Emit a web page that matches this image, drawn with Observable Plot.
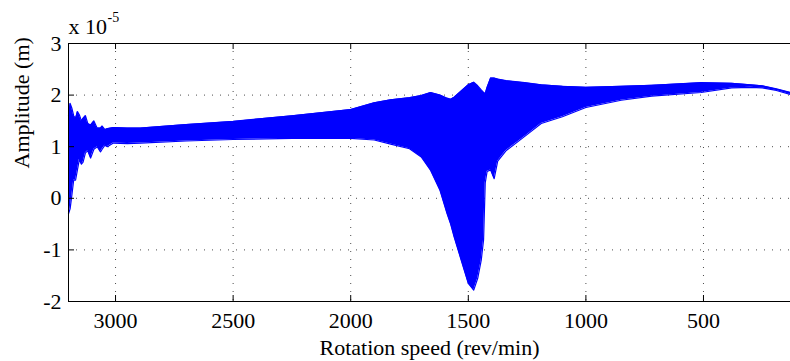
<!DOCTYPE html>
<html>
<head>
<meta charset="utf-8">
<script src="https://cdn.jsdelivr.net/npm/d3@7"></script>
<script src="https://cdn.jsdelivr.net/npm/@observablehq/plot@0.6"></script>
<style>
  html, body { margin: 0; padding: 0; background: #fff; }
  #chart { width: 790px; height: 361px; }
  #chart svg { overflow: visible; }
  #chart svg text { font-family: 'Liberation Serif', 'DejaVu Serif', serif !important; }
  #chart svg g[aria-label$="tick label"] text { font-size: 22px !important; fill: #000; }
</style>
</head>
<body>
<div id="chart"></div>
<script>
// Rotation speed (rev/min) at which the response envelope was read
const speed = [3200, 3193, 3186, 3178, 3170, 3162, 3154, 3145, 3138, 3128, 3118, 3106, 3092, 3078, 3064, 3057, 3045, 3035, 3009, 2950, 2894, 2700, 2500, 2250, 2000, 1900, 1830, 1750, 1700, 1660, 1620, 1590, 1575, 1560, 1530, 1500, 1477, 1460, 1445, 1435, 1428, 1420, 1405, 1390, 1375, 1340, 1260, 1190, 1100, 1000, 850, 720, 510, 380, 300, 250, 190, 130];
// Upper envelope of the amplitude (x 1e-5 m)
const upper = [1.60, 1.84, 1.75, 1.60, 1.55, 1.68, 1.62, 1.50, 1.55, 1.60, 1.45, 1.42, 1.50, 1.36, 1.36, 1.40, 1.33, 1.35, 1.37, 1.36, 1.36, 1.43, 1.49, 1.60, 1.72, 1.85, 1.91, 1.95, 1.99, 2.05, 2.00, 1.94, 1.92, 1.96, 2.08, 2.20, 2.25, 2.18, 2.10, 2.05, 2.03, 2.15, 2.33, 2.33, 2.31, 2.28, 2.24, 2.20, 2.17, 2.15, 2.17, 2.19, 2.24, 2.23, 2.20, 2.18, 2.12, 2.05];
// Lower envelope of the amplitude (x 1e-5 m)
const lower = [-0.30, -0.20, 0.05, 0.35, 0.35, 0.55, 0.75, 0.66, 0.70, 0.88, 0.92, 0.78, 0.95, 1.00, 0.90, 0.95, 1.03, 1.00, 1.07, 1.06, 1.07, 1.11, 1.14, 1.16, 1.16, 1.13, 1.05, 0.96, 0.80, 0.54, 0.15, -0.30, -0.50, -0.75, -1.20, -1.65, -1.78, -1.55, -1.20, -0.80, 0.30, 0.52, 0.55, 0.38, 0.72, 0.92, 1.20, 1.45, 1.58, 1.76, 1.90, 1.98, 2.05, 2.14, 2.15, 2.14, 2.09, 2.01];

const xTicks = [3000, 2500, 2000, 1500, 1000, 500];
const yTicks = [-2, -1, 0, 1, 2, 3];
const xDomain = [3200, 130];
const yDomain = [-2, 3];
const xLabel = "Rotation speed (rev/min)";
const yLabel = "Amplitude (m)";
const multiplier = "x 10";
const exponent = "-5";

const data = speed.map((s, i) => ({speed: s, upper: upper[i], lower: lower[i]}));

const W = 790, H = 361, mL = 68, mT = 43, mB = 60, mR = 0;
const plotW = W - mL - mR, plotH = H - mT - mB;
const font = "Liberation Serif";
const blue = "#0000ff";
const gridStyle = {stroke: "#000", strokeOpacity: 0.7, strokeDasharray: "1,7"};

const chart = Plot.plot({
  width: W, height: H,
  marginLeft: mL, marginTop: mT, marginBottom: mB, marginRight: mR,
  style: {fontFamily: font, fontSize: "22px", color: "#000", background: "#fff", overflow: "visible"},
  x: {domain: xDomain, ticks: xTicks, tickSize: 0, tickPadding: 11, tickFormat: d => String(d), label: null},
  y: {domain: yDomain, ticks: yTicks, tickSize: 0, tickPadding: 7, tickFormat: d => String(d), label: null},
  marks: [
    Plot.ruleX(xTicks, {x: d => d, ...gridStyle}),
    Plot.ruleY(yTicks.filter(d => d > yDomain[0] && d < yDomain[1]), {y: d => d, ...gridStyle}),
    Plot.areaY(data, {x: "speed", y1: "lower", y2: "upper", fill: blue}),
    Plot.lineY(data, {x: "speed", y: "upper", stroke: blue, strokeWidth: 1.2}),
    Plot.lineY(data, {x: "speed", y: "lower", stroke: blue, strokeWidth: 1.2}),
    // axes box (right edge falls outside the picture)
    Plot.ruleY([yDomain[1]], {y: d => d, stroke: "#000", strokeWidth: 1}),
    Plot.ruleY([yDomain[0]], {y: d => d, stroke: "#000", strokeWidth: 1}),
    Plot.ruleX([xDomain[0]], {x: d => d, stroke: "#000", strokeWidth: 1}),
    // inward ticks
    Plot.ruleX(xTicks, {x: d => d, insetTop: plotH - 6, stroke: "#000"}),
    Plot.ruleX(xTicks, {x: d => d, insetBottom: plotH - 6, stroke: "#000"}),
    Plot.ruleY(yTicks, {y: d => d, insetRight: plotW - 6, stroke: "#000"}),
    // axis titles
    Plot.text([xLabel], {frameAnchor: "bottom", lineAnchor: "middle", dy: 46, fontFamily: font, fontSize: 22, fill: "#000"}),
    Plot.text([yLabel], {frameAnchor: "left", rotate: -90, lineAnchor: "middle", dx: -47, dy: -4, fontFamily: font, fontSize: 22, fill: "#000"}),
    // exponent multiplier
    Plot.text([multiplier], {frameAnchor: "top-left", textAnchor: "start", lineAnchor: "middle", dy: -17, fontFamily: font, fontSize: 22, fill: "#000"}),
    Plot.text([exponent], {frameAnchor: "top-left", textAnchor: "start", lineAnchor: "middle", dx: 39, dy: -25.5, fontFamily: font, fontSize: 14, fill: "#000"})
  ]
});
document.getElementById("chart").appendChild(chart);
</script>
</body>
</html>
